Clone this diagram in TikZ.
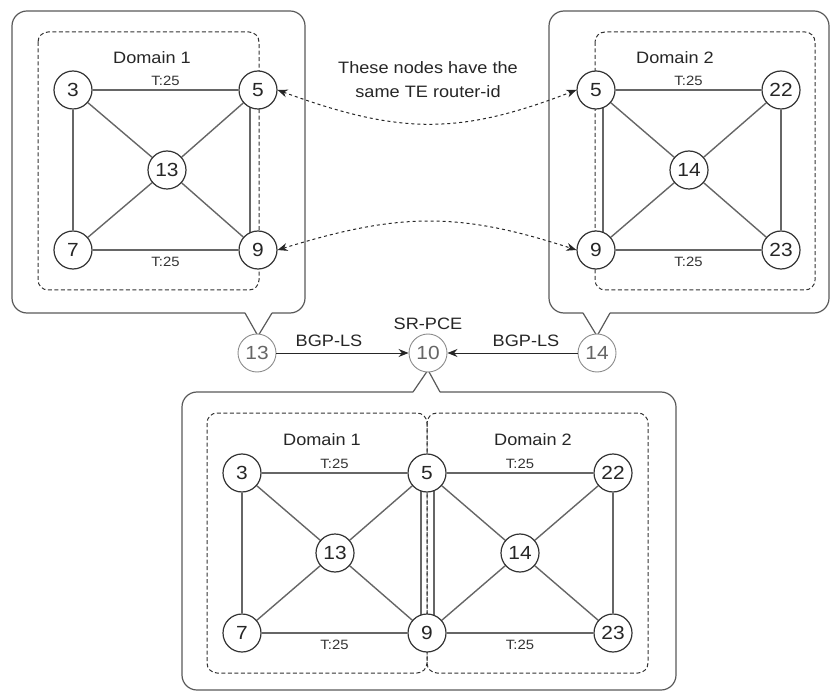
\documentclass[tikz,border=0pt]{standalone}
\usepackage{fontspec}
\setmainfont{Liberation Sans}[FakeStretch=1.1]
\usetikzlibrary{arrows.meta,backgrounds}
\begin{document}
\begin{tikzpicture}[x=1pt,y=-1pt,
  rn/.style={circle,draw=black!80,line width=1.2pt,fill=white,minimum size=38pt,inner sep=0pt,font=\fontsize{19}{20}\selectfont,text=black!85},
  sn/.style={circle,draw=black!45,line width=0.9pt,fill=white,minimum size=38pt,inner sep=0pt,font=\fontsize{19}{20}\selectfont,text=black!60},
  edge/.style={draw=black!60,line width=1.4pt},
  dom/.style={draw=black!80,line width=1pt,dash pattern=on 4pt off 2.5pt,rounded corners=10pt},
  box/.style={draw=black!65,line width=1.2pt},
  lbl/.style={font=\fontsize{16.5}{19}\selectfont,text=black!85},
  tl/.style={font=\fontsize{13.5}{15}\selectfont,text=black!80,inner sep=1pt},
  link/.style={draw=black!85,line width=1pt,dash pattern=on 3pt off 3pt,{Stealth[length=10pt,width=8pt]}-{Stealth[length=10pt,width=8pt]}},
  bgp/.style={draw=black!85,line width=1pt,-{Stealth[length=10pt,width=8pt]}}
]
\useasboundingbox (0,0) rectangle (832,692);

% nodes top-left
\node[rn] (a3) at (73,90) {3};
\node[rn] (a5) at (258,90) {5};
\node[rn] (a13) at (167,170) {13};
\node[rn] (a7) at (73,250) {7};
\node[rn] (a9) at (258,250) {9};
% nodes top-right
\node[rn] (b5) at (596,90) {5};
\node[rn] (b22) at (781,90) {22};
\node[rn] (b14) at (689,170) {14};
\node[rn] (b9) at (596,250) {9};
\node[rn] (b23) at (781,250) {23};
% small nodes
\node[sn] (s13) at (257,353) {13};
\node[sn] (s10) at (428,353) {10};
\node[sn] (s14) at (597,353) {14};
% bottom nodes
\node[rn] (c3) at (242,473) {3};
\node[rn] (c5) at (427,473) {5};
\node[rn] (c13) at (335,553) {13};
\node[rn] (c7) at (242,633) {7};
\node[rn] (c9) at (427,633) {9};
\node[rn] (c22) at (613,473) {22};
\node[rn] (c14) at (520,553) {14};
\node[rn] (c23) at (613,633) {23};

% labels
\node[lbl] (d1a) at (152,58) {Domain 1};
\node[lbl] (d2a) at (675,58) {Domain 2};
\node[lbl] (d1b) at (322,440) {Domain 1};
\node[lbl] (d2b) at (533,440) {Domain 2};
\node[lbl,align=center,font=\fontsize{16.5}{24}\selectfont] (note) at (428,80) {These nodes have the\\same TE router-id};
\node[lbl] (pce) at (428,324) {SR-PCE};
\node[lbl] (bgp1) at (329,341) {BGP-LS};
\node[lbl] (bgp2) at (526,341) {BGP-LS};

\begin{pgfonlayer}{background}
% callouts
\draw[box,rounded corners=15pt] (272,313) -- (305,313) -- (305,11) -- (12,11) -- (12,313) -- (245,313);
\draw[box,line join=miter] (245,313) -- (258,336) -- (272,313);
\draw[box,rounded corners=15pt] (610,313) -- (829,313) -- (829,11) -- (549,11) -- (549,313) -- (583,313);
\draw[box,line join=miter] (583,313) -- (597,336) -- (610,313);
\draw[box,rounded corners=15pt] (440,392) -- (676,392) -- (676,690) -- (182,690) -- (182,392) -- (413,392);
\draw[box,line join=miter] (413,392) -- (428,370) -- (440,392);
% domain boxes
\draw[dom] (38,32) rectangle (259,290);
\draw[dom] (595,32) rectangle (815,290);
\draw[dom] (207,413) rectangle (427,673);
\draw[dom] (427,413) rectangle (648,673);
% edges top-left
\draw[edge] (a3) -- node[tl,above=3pt] {T:25} (a5);
\draw[edge] (a7) -- node[tl,below=5pt] {T:25} (a9);
\draw[edge] (a3) -- (a7);
\draw[edge] (a3) -- (a13); \draw[edge] (a5) -- (a13);
\draw[edge] (a7) -- (a13); \draw[edge] (a9) -- (a13);
\draw[edge] ([xshift=-8pt]a5.center) -- ([xshift=-8pt]a9.center);
% edges top-right
\draw[edge] (b5) -- node[tl,above=3pt] {T:25} (b22);
\draw[edge] (b9) -- node[tl,below=5pt] {T:25} (b23);
\draw[edge] (b22) -- (b23);
\draw[edge] (b5) -- (b14); \draw[edge] (b22) -- (b14);
\draw[edge] (b9) -- (b14); \draw[edge] (b23) -- (b14);
\draw[edge] ([xshift=7pt]b5.center) -- ([xshift=7pt]b9.center);
% edges bottom
\draw[edge] (c3) -- node[tl,above=3pt] {T:25} (c5);
\draw[edge] (c7) -- node[tl,below=5pt] {T:25} (c9);
\draw[edge] (c3) -- (c7);
\draw[edge] (c3) -- (c13); \draw[edge] (c5) -- (c13);
\draw[edge] (c7) -- (c13); \draw[edge] (c9) -- (c13);
\draw[edge] ([xshift=-6pt]c5.center) -- ([xshift=-6pt]c9.center);
\draw[edge] ([xshift=7pt]c5.center) -- ([xshift=7pt]c9.center);
\draw[edge] (c5) -- node[tl,above=3pt] {T:25} (c22);
\draw[edge] (c9) -- node[tl,below=5pt] {T:25} (c23);
\draw[edge] (c22) -- (c23);
\draw[edge] (c5) -- (c14); \draw[edge] (c22) -- (c14);
\draw[edge] (c9) -- (c14); \draw[edge] (c23) -- (c14);
\end{pgfonlayer}

% dashed links
\draw[link] (a5.east) .. controls (400,135) and (460,135) .. (b5.west);
\draw[link] (a9.east) .. controls (400,212) and (460,212) .. (b9.west);
% BGP-LS
\draw[bgp] (s13) -- (s10);
\draw[bgp] (s14) -- (s10);
\end{tikzpicture}
\end{document}
